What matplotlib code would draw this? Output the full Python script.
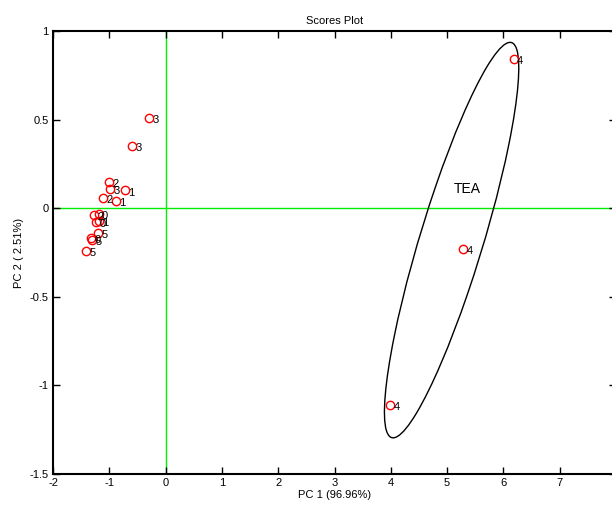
import matplotlib
matplotlib.use("Agg")
import matplotlib.pyplot as plt
from matplotlib.patches import Ellipse

plt.rcParams['font.family'] = ['Liberation Sans', 'DejaVu Sans']

# Scores data
pc1 = [6.18, 5.29, 3.99, -0.30, -0.59, -0.98, -1.00, -1.12, -1.27,
       -0.72, -0.88, -1.19, -1.19, -1.24, -1.33, -1.20, -1.30, -1.42]
pc2 = [0.84, -0.23, -1.11, 0.51, 0.35, 0.11, 0.15, 0.06, -0.04,
       0.10, 0.04, -0.07, -0.03, -0.08, -0.17, -0.14, -0.18, -0.24]
labels = ['4', '4', '4', '3', '3', '3', '2', '2', '2',
          '1', '1', '1', '0', '0', '0', '5', '5', '5']

# Confidence ellipse for group TEA (data units)
ell_center = (5.08, -0.18)
ell_width = 3.16
ell_height = 0.83
ell_angle = 42.8
group_name = 'TEA'
group_label_pos = (5.35, 0.108)

xticks = [-2, -1, 0, 1, 2, 3, 4, 5, 6, 7]
yticks = [-1.5, -1, -0.5, 0, 0.5, 1]
xlim = (-2, 8)
ylim = (-1.5, 1)

W, H = 612, 508
fig = plt.figure(figsize=(W / 100, H / 100), dpi=100)
left, right, top, bottom = 53, 616, 31, 474
ax = fig.add_axes([left / W, (H - bottom) / H, (right - left) / W, (bottom - top) / H])

ax.axvline(0, color='#00ee00', lw=1.0, zorder=1)
ax.axhline(0, color='#00ee00', lw=1.0, zorder=1)

ax.plot(pc1, pc2, linestyle='none', marker='o', markersize=6,
        markerfacecolor='none', markeredgecolor='red', markeredgewidth=1.0, zorder=3)
for x, y, t in zip(pc1, pc2, labels):
    ax.annotate(t, (x, y), xytext=(2.5, -1.5), textcoords='offset points',
                fontsize=8, va='center', ha='left', color='black', zorder=4)

ell = Ellipse(ell_center, ell_width, ell_height, angle=ell_angle,
              fill=False, edgecolor='black', lw=1.0, zorder=2)
ax.add_patch(ell)
ax.text(group_label_pos[0], group_label_pos[1], group_name, fontsize=10,
        ha='center', va='center', color='black')

ax.set_xlim(*xlim)
ax.set_ylim(*ylim)
ax.set_xticks(xticks)
ax.set_yticks(yticks)
ax.set_xticklabels([f'{v:g}' for v in xticks])
ax.set_yticklabels([f'{v:g}' for v in yticks])
ax.tick_params(direction='in', length=5, width=1, labelsize=8,
               top=True, right=True, pad=3)
for s in ax.spines.values():
    s.set_linewidth(1.5)

ax.set_title('Scores Plot', fontsize=8, pad=5)
ax.set_xlabel('PC 1 (96.96%)', fontsize=8, labelpad=1)
ax.set_ylabel('PC 2 ( 2.51%)', fontsize=8, labelpad=4)

fig.savefig('out.png', dpi=100)
